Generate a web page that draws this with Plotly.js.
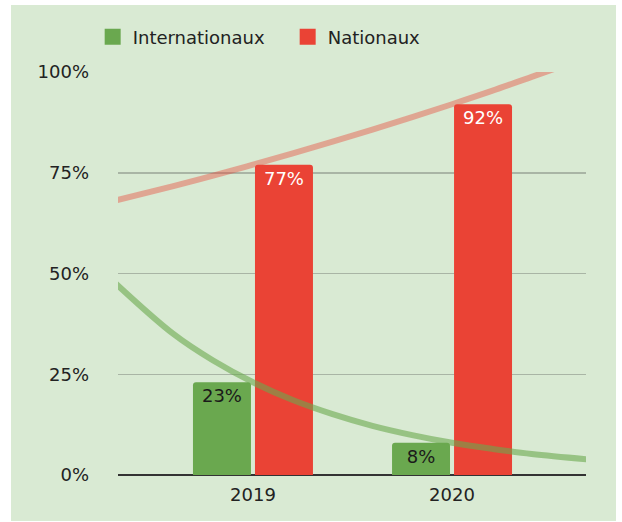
<!DOCTYPE html>
<html>
<head>
<meta charset="utf-8">
<script src="https://cdn.plot.ly/plotly-3.0.1.min.js"></script>
<style>
  html, body { margin: 0; padding: 0; background: #ffffff; width: 622px; height: 522px; overflow: hidden; }
  #chart { position: absolute; left: 11px; top: 5px; width: 605px; height: 516px; }
</style>
</head>
<body>
<div id="chart"></div>
<script>
// Categories and series
const years = ["2019", "2020"];
const xPos = [0, 1];
const internationaux = [23, 8];
const nationaux = [77, 92];

// Trend curves (x in category units, y in %)
const trendX = [-0.7, -0.4, -0.2, 0, 0.2, 0.4, 0.6, 0.8, 1.0, 1.2, 1.4, 1.7];
const trendInter = [48, 35, 28.4, 23, 18.6, 15.1, 12.2, 9.9, 8, 6.5, 5.2, 3.8];
const trendNat = [68, 71.7, 74.3, 77, 79.8, 82.7, 85.7, 88.8, 92, 95.3, 98.8, 104];

const yTicks = [0, 25, 50, 75, 100];
const yTickText = ["0%", "25%", "50%", "75%", "100%"];

const GREEN = "#6aa84f";
const RED = "#ea4335";
const FONT = "DejaVu Sans, Verdana, sans-serif";

const traces = [
  {
    type: "bar", x: xPos, y: internationaux, name: "Internationaux",
    marker: { color: GREEN }, showlegend: false,
    text: internationaux.map(v => v + "%"), textposition: "inside",
    insidetextanchor: "end", constraintext: "none",
    textfont: { color: "#1a1a1a", size: 18, family: FONT },
    hoverinfo: "skip"
  },
  {
    type: "bar", x: xPos, y: nationaux, name: "Nationaux",
    marker: { color: RED }, showlegend: false,
    text: nationaux.map(v => v + "%"), textposition: "inside",
    insidetextanchor: "end", constraintext: "none",
    textfont: { color: "#ffffff", size: 18, family: FONT },
    hoverinfo: "skip"
  },
  {
    type: "scatter", mode: "lines", x: trendX, y: trendInter,
    line: { color: "rgba(106,168,79,0.6)", width: 6, shape: "spline" },
    showlegend: false, hoverinfo: "skip"
  },
  {
    type: "scatter", mode: "lines", x: trendX, y: trendNat,
    line: { color: "rgba(234,67,53,0.41)", width: 6, shape: "spline" },
    showlegend: false, hoverinfo: "skip"
  },
  {
    type: "scatter", mode: "markers", x: [null], y: [null], name: "Internationaux",
    marker: { color: GREEN, symbol: "square", size: 20 }, showlegend: true
  },
  {
    type: "scatter", mode: "markers", x: [null], y: [null], name: "Nationaux",
    marker: { color: RED, symbol: "square", size: 20 }, showlegend: true
  }
];

const layout = {
  width: 605, height: 516,
  paper_bgcolor: "#d9ead3", plot_bgcolor: "#d9ead3",
  margin: { l: 107, r: 30, t: 67, b: 46 },
  font: { family: FONT, size: 18, color: "#222222" },
  barmode: "group", bargap: 0.377, bargroupgap: 0.065,
  barcornerradius: 3,
  showlegend: true,
  legend: {
    orientation: "h", xref: "container", yref: "container",
    x: 0.135, xanchor: "left", y: 0.938, yanchor: "middle",
    bgcolor: "rgba(0,0,0,0)", font: { size: 18, family: FONT, color: "#222222" },
    itemsizing: "trace", entrywidth: 150, entrywidthmode: "pixels"
  },
  xaxis: {
    range: [-0.678, 1.673], tickvals: xPos, ticktext: years,
    showgrid: false, zeroline: false, showline: false, ticks: "",
    ticklabelstandoff: 7, fixedrange: true
  },
  yaxis: {
    range: [0, 100], tickvals: yTicks, ticktext: yTickText,
    showgrid: true, gridcolor: "#a9b5a5", gridwidth: 1.5,
    zeroline: true, zerolinecolor: "#333333", zerolinewidth: 1.5,
    showline: false, ticks: "", ticklabelstandoff: 28, fixedrange: true
  }
};

Plotly.newPlot("chart", traces, layout, { displayModeBar: false, staticPlot: true });
</script>
</body>
</html>
